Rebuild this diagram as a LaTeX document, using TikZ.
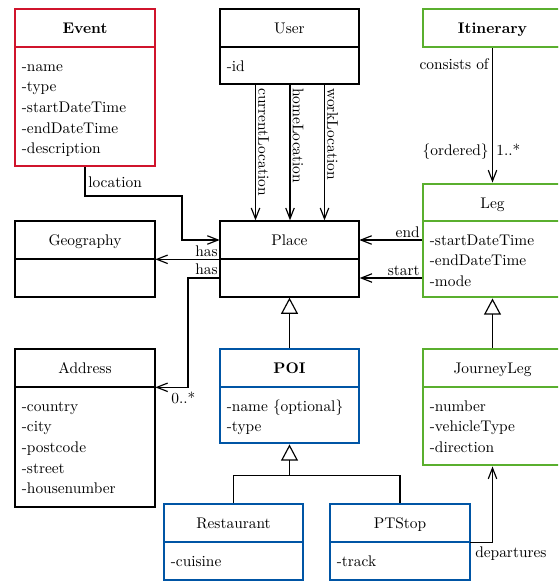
\documentclass[tikz,border=0pt]{standalone}
\usetikzlibrary{arrows.meta,calc,fit}
\definecolor{umlred}{HTML}{D0142C}
\definecolor{umlgreen}{HTML}{5AAF2E}
\definecolor{umlblue}{HTML}{0055A5}
% name, style, left, top, right, header-bottom, bottom, title
\newcommand\umlclass[8]{%
  \node[#2, fit={(#3,#4)(#5,#7)}] (#1) {};
  \node[inner sep=0pt, fit={(#3,#4)(#5,#6)}] (#1-h) {};
  \draw[#2] (#3,#6) -- (#5,#6);
  \node[anchor=base, inner sep=0pt] (#1-t) at ($(#1-h.center)+(0,5.5)$) {#8};
}
% name, x, first baseline, list
\newcommand\umlattrs[4]{%
  \foreach \a [count=\i] in {#4} {%
    \node[anchor=base west, inner sep=0pt] (#1-a\i) at (#2, #3+20.7*\i-20.7) {\a};}%
}
\begin{document}
\begin{tikzpicture}[x=0.649pt,y=-0.649pt,
  bk/.style={draw=black,line width=0.85pt,inner sep=0pt},
  rd/.style={draw=umlred,line width=1.9pt,inner sep=0pt},
  gr/.style={draw=umlgreen,line width=1.9pt,inner sep=0pt},
  bl/.style={draw=umlblue,line width=1.9pt,inner sep=0pt},
  assoc/.style={line width=0.75pt,-{Straight Barb[length=7pt,width=5.5pt]}},
  gen/.style={line width=0.75pt,-{Triangle[open,length=10.5pt,width=11pt]}},
  conn/.style={line width=0.75pt},
  lbl/.style={inner sep=0pt}]
\useasboundingbox (0,0) rectangle (558,581);
\clip (0,0) rectangle (558,581);

% classes
\umlclass{ev}{rd}{15}{9}{155}{47}{166}{\bfseries Event}
\umlclass{us}{bk}{220}{9}{359}{47}{84}{User}
\umlclass{it}{gr}{423}{9}{562}{47}{47}{\bfseries Itinerary}
\umlclass{geo}{bk}{15}{221}{155}{259}{297}{Geography}
\umlclass{pl}{bk}{220}{221}{359}{259}{297}{Place}
\umlclass{lg}{gr}{423}{184}{562}{221}{297}{Leg}
\umlclass{ad}{bk}{15}{349}{155}{387}{507}{Address}
\umlclass{poi}{bl}{220}{349}{359}{387}{443}{\bfseries POI}
\umlclass{jl}{gr}{423}{349}{562}{387}{465}{JourneyLeg}
\umlclass{res}{bl}{164}{504}{303}{542}{580}{Restaurant}
\umlclass{pts}{bl}{330}{504}{470}{542}{580}{PTStop}

% attributes
\umlattrs{ev}{21.5}{71}{-name,-type,-startDateTime,-endDateTime,-description}
\umlattrs{us}{226.5}{71}{-id}
\umlattrs{lg}{429.5}{245}{-startDateTime,-endDateTime,-mode}
\umlattrs{ad}{21.5}{411}{-country,-city,-postcode,-street,-housenumber}
\umlattrs{poi}{226.5}{411}{-name \{optional\},-type}
\umlattrs{jl}{429.5}{411}{-number,-vehicleType,-direction}
\umlattrs{res}{170.5}{566}{-cuisine}
\umlattrs{pts}{336.5}{566}{-track}

% Event -> Place
\draw[assoc] (ev.south) |- (182,196) |- (pl-h.west);
\node[lbl, anchor=base west] (llocation) at (88,187) {location};

% User -> Place
\draw[assoc] ($(us.south)+(-34,0)$) -- ($(pl.north)+(-34,0)$);
\draw[assoc] ($(us.south)+(0.5,0)$) -- ($(pl.north)+(0.5,0)$);
\draw[assoc] ($(us.south)+(35,0)$) -- ($(pl.north)+(35,0)$);
\node[lbl, rotate=-90, anchor=base west] (lcur) at (258.3,88) {currentLocation};
\node[lbl, rotate=-90, anchor=base west] (lhome) at (292.8,88) {homeLocation};
\node[lbl, rotate=-90, anchor=base west] (lwork) at (327.3,88) {workLocation};

% Place -> Geography
\draw[assoc] (pl-h.south west) -- (geo-h.south east);
\node[lbl, anchor=base east] (lhas1) at (218,256) {has};

% Place -> Address
\draw[assoc] ($(pl.west)+(0,19)$) -| (188,330) |- (ad-h.south east);
\node[lbl, anchor=base east] (lhas2) at (218,274) {has};
\node[lbl, anchor=base west] (lmult) at (171,403) {0..*};

% Itinerary -> Leg
\draw[assoc] (it.south) -- (lg.north);
\node[lbl, anchor=base east] (lcons) at (489,70) {consists of};
\node[lbl, anchor=base east] (lord) at (489,155) {\{ordered\}};
\node[lbl, anchor=base west] (lone) at (496,155) {1..*};

% Leg -> Place
\draw[assoc] (pl-h.east -| lg.west) -- (pl-h.east);
\coordinate (pst) at ($(pl.east)+(0,19)$);
\draw[assoc] (pst -| lg.west) -- (pst);
\node[lbl, anchor=base east] (lend) at (420,237) {end};
\node[lbl, anchor=base east] (lstart) at (420,275) {start};

% generalizations
\draw[gen] (poi.north) -- (pl.south);
\draw[gen] (jl.north) -- (lg.south);
\coordinate (gj) at ($(poi.south)+(0,31)$);
\draw[conn] (res.north) |- (gj) -| (pts.north);
\draw[gen] (gj) -- (poi.south);

% PTStop -> JourneyLeg
\draw[assoc] (pts-h.south east) -| (jl.south);
\node[lbl, anchor=base west] (ldep) at (475,557) {departures};
\end{tikzpicture}
\end{document}
